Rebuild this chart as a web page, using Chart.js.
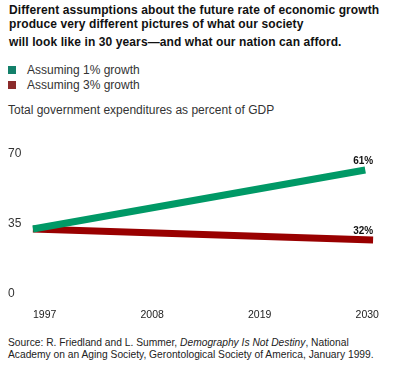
<!DOCTYPE html>
<html>
<head>
<meta charset="utf-8">
<script src="https://cdn.jsdelivr.net/npm/chart.js@4"></script>
<style>
  body { margin: 0; width: 400px; height: 371px; background: #fff; font-family: "Liberation Sans", Arial, sans-serif; color: #333; position: relative; overflow: hidden; }
  .t { position: absolute; left: 9px; font-weight: bold; font-size: 12px; letter-spacing: 0.1px; line-height: 15px; color: #111; white-space: nowrap; }
  .lg { position: absolute; left: 8px; font-size: 12px; white-space: nowrap; }
  .lg i { display: inline-block; width: 8px; height: 8px; margin-right: 11px; }
  .sub { position: absolute; left: 8px; top: 103px; font-size: 12px; white-space: nowrap; }
  .src { position: absolute; left: 8px; top: 337px; font-size: 10.25px; line-height: 12px; white-space: nowrap; color: #222; }
  #wrap { position: absolute; left: 0; top: 140px; width: 400px; height: 180px; }
</style>
</head>
<body>
<div class="t" style="top:3px">Different assumptions about the future rate of economic growth</div>
<div class="t" style="top:17px">produce very different pictures of what our society</div>
<div class="t" style="top:35px">will look like in 30 years—and what our nation can afford.</div>
<div class="lg" style="top:63px"><i style="background:#13806a"></i>Assuming 1% growth</div>
<div class="lg" style="top:78px"><i style="background:#8b2b2b"></i>Assuming 3% growth</div>
<div class="sub">Total government expenditures as percent of GDP</div>
<div id="wrap"><canvas id="c"></canvas></div>
<div class="src">Source: R. Friedland and L. Summer, <i>Demography Is Not Destiny</i>, National<br>Academy on an Aging Society, Gerontological Society of America, January 1999.</div>
<script>
// values (label text is what the source prints)
const years = [1997, 2008, 2019, 2030];
const yTicks = [0, 35, 70];
const lowX = [1995.8, 2029.8];
const lowY = [32.5, 62];
const highX = [1995.8, 2030.6];
const highY = [32.5, 27];
const endLabels = ["61%", "32%"];

const endLabelPlugin = {
  id: "endLabels",
  afterDatasetsDraw(chart) {
    const ctx = chart.ctx;
    const xs = chart.scales.x;
    ctx.save();
    ctx.font = "bold 10px 'Liberation Sans', Arial, sans-serif";
    ctx.fillStyle = "#111";
    ctx.textAlign = "right";
    ctx.textBaseline = "middle";
    chart.data.datasets.forEach((ds, i) => {
      const pts = chart.getDatasetMeta(i).data;
      const p = pts[pts.length - 1];
      ctx.fillText(endLabels[i], xs.getPixelForValue(2030) + 6, p.y - 9);
    });
    ctx.restore();
  },
};

new Chart(document.getElementById("c"), {
  type: "line",
  data: {
    datasets: [
      { label: "Assuming 1% growth", data: lowX.map((x, i) => ({ x, y: lowY[i] })), borderColor: "#009966", borderWidth: 7, borderCapStyle: "butt", pointRadius: 0 },
      { label: "Assuming 3% growth", data: highX.map((x, i) => ({ x, y: highY[i] })), borderColor: "#990000", borderWidth: 7, borderCapStyle: "butt", pointRadius: 0 },
    ],
  },
  options: {
    responsive: true, maintainAspectRatio: false, animation: false,
    layout: { padding: { left: 8, right: 23, top: 14, bottom: 0 } },
    plugins: { legend: { display: false }, tooltip: { enabled: false } },
    scales: {
      x: {
        type: "linear", min: 1995.5, max: 2031,
        afterBuildTicks: (s) => { s.ticks = years.map((v) => ({ value: v })); },
        afterFit: (s) => { s.height = 26; },
        grid: { display: false }, border: { display: false },
        ticks: { color: "#222", padding: 7, font: { size: 10.5, family: "'Liberation Sans', Arial, sans-serif" }, callback: (v) => String(v) },
      },
      y: {
        min: 0, max: 70,
        afterBuildTicks: (s) => { s.ticks = yTicks.map((v) => ({ value: v })); },
        afterFit: (s) => { s.width = 22; },
        grid: { display: false }, border: { display: false },
        ticks: { color: "#333", crossAlign: "far", padding: 0, font: { size: 12, family: "'Liberation Sans', Arial, sans-serif" } },
      },
    },
  },
  plugins: [endLabelPlugin],
});
</script>
</body>
</html>
